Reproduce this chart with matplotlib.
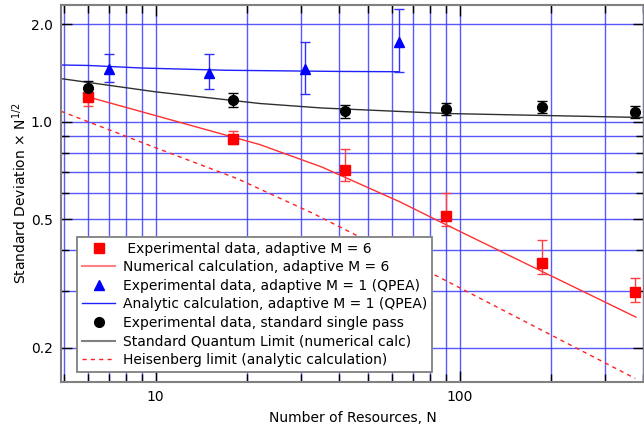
import matplotlib
matplotlib.use("Agg")
import matplotlib.pyplot as plt
from matplotlib.lines import Line2D
import numpy as np

# ---- data ----
# Experimental data, adaptive M = 6
n_m6 = [6, 18, 42, 90, 186, 378]
v_m6 = [1.19, 0.886, 0.707, 0.511, 0.367, 0.298]
lo_m6 = [1.12, 0.851, 0.655, 0.476, 0.338, 0.277]
hi_m6 = [1.26, 0.933, 0.821, 0.602, 0.432, 0.330]

# Numerical calculation, adaptive M = 6
n_num = [6, 10, 22, 35.3, 63.6, 86, 186, 380]
v_num = [1.191, 1.043, 0.849, 0.723, 0.565, 0.491, 0.345, 0.249]

# Experimental data, adaptive M = 1 (QPEA)
n_m1 = [7, 15, 31, 63]
v_m1 = [1.457, 1.415, 1.45, 1.757]
lo_m1 = [1.32, 1.256, 1.22, 1.427]
hi_m1 = [1.62, 1.615, 1.765, 2.22]

# Analytic calculation, adaptive M = 1 (QPEA)
n_ana = [4.88, 6, 9, 17, 40, 63]
v_ana = [1.495, 1.49, 1.463, 1.44, 1.428, 1.425]

# Experimental data, standard single pass
n_sp = [6, 18, 42, 90, 186, 378]
v_sp = [1.27, 1.163, 1.076, 1.097, 1.109, 1.074]
lo_sp = [1.216, 1.109, 1.024, 1.051, 1.061, 1.026]
hi_sp = [1.335, 1.229, 1.125, 1.144, 1.16, 1.12]

# Standard Quantum Limit (numerical calc)
n_sql = [4.88, 10, 22, 35.3, 90, 404]
v_sql = [1.357, 1.235, 1.137, 1.101, 1.059, 1.029]

# Heisenberg limit (analytic calculation)
n_hl = [4.88, 10, 18.5, 33.0, 86, 378]
v_hl = [1.076, 0.83, 0.667, 0.520, 0.330, 0.161]

x_major = [10, 100]
x_minor = [5, 6, 7, 8, 9, 20, 30, 40, 50, 60, 70, 80, 90, 200, 300, 400]
y_major = [0.2, 0.5, 1.0, 2.0]
y_minor = [0.3, 0.4, 0.6, 0.7, 0.8, 0.9]

labels = [
    " Experimental data, adaptive M = 6",
    "Numerical calculation, adaptive M = 6",
    "Experimental data, adaptive M = 1 (QPEA)",
    "Analytic calculation, adaptive M = 1 (QPEA)",
    "Experimental data, standard single pass",
    "Standard Quantum Limit (numerical calc)",
    "Heisenberg limit (analytic calculation)",
]

# ---- figure ----
fig = plt.figure(figsize=(6.44, 4.30), dpi=100)
ax = fig.add_axes([61 / 644, 1 - 382 / 430, 583 / 644, 377 / 430])
ax.set_xscale("log")
ax.set_yscale("log")
ax.set_xlim(4.88, 404)
ax.set_ylim(0.157, 2.29)

ax.set_xticks(x_major)
ax.set_xticks(x_minor, minor=True)
ax.set_xticklabels([str(v) for v in x_major])
ax.set_xticklabels([], minor=True)
ax.set_yticks(y_major)
ax.set_yticks(y_minor, minor=True)
ax.set_yticklabels(["%.1f" % v for v in y_major])
ax.set_yticklabels([], minor=True)

ax.grid(True, which="both", color="#3c3cff", lw=1.0, alpha=0.85, zorder=0)
ax.set_axisbelow(True)
ax.tick_params(which="both", direction="in", top=True, right=True,
               color="black", labelsize=10, pad=6)
ax.tick_params(which="major", length=8, width=1)
ax.tick_params(which="minor", length=6, width=1)
for s in ax.spines.values():
    s.set_color("#808080")
    s.set_linewidth(1.5)

# lines
ax.plot(n_ana, v_ana, color="#2020ff", lw=1.0, zorder=2)
ax.plot(n_sql, v_sql, color="#303030", lw=1.0, zorder=2)
ax.plot(n_num, v_num, color="#ff3030", lw=1.0, zorder=2)
ax.plot(n_hl, v_hl, color="#ff2020", lw=1.0, ls=(0, (3, 3)), zorder=2)

# data with error bars
def eb(n, v, lo, hi, fmt, color, ecolor, ms):
    v = np.array(v); lo = np.array(lo); hi = np.array(hi)
    ax.errorbar(n, v, yerr=[v - lo, hi - v], fmt=fmt, color=color,
                ecolor=ecolor, ms=ms, capsize=3.5, elinewidth=1.0,
                capthick=1.0, zorder=3, mec=color)

eb(n_m6, v_m6, lo_m6, hi_m6, "s", "#ff0000", "#ff4040", 6.5)
eb(n_m1, v_m1, lo_m1, hi_m1, "^", "#0000ff", "#3030ff", 7.5)
eb(n_sp, v_sp, lo_sp, hi_sp, "o", "black", "black", 7.0)

ax.set_xlabel("Number of Resources, N", fontsize=10, labelpad=5)
ax.set_ylabel(r"Standard Deviation $\times$ N$^{1/2}$", fontsize=10, labelpad=1)

handles = [
    Line2D([], [], marker="s", color="#ff0000", ls="none", ms=6.5),
    Line2D([], [], color="#ff8080", lw=1.5),
    Line2D([], [], marker="^", color="#0000ff", ls="none", ms=7.5),
    Line2D([], [], color="#2020ff", lw=1.0),
    Line2D([], [], marker="o", color="black", ls="none", ms=7.0),
    Line2D([], [], color="#808080", lw=1.5),
    Line2D([], [], color="#ff2020", lw=1.0, ls=(0, (3, 3))),
]
leg = ax.legend(handles, labels, loc="upper left",
                bbox_to_anchor=(77 / 644, 1 - 236.7 / 430),
                bbox_transform=fig.transFigure, fontsize=10,
                frameon=True, fancybox=False, framealpha=1,
                edgecolor="#808080", borderpad=0.35, labelspacing=0.33,
                handlelength=2.4, handletextpad=0.55, borderaxespad=0)
leg.get_frame().set_linewidth(1.3)
leg.set_zorder(5)

fig.savefig("out.png", dpi=100)
